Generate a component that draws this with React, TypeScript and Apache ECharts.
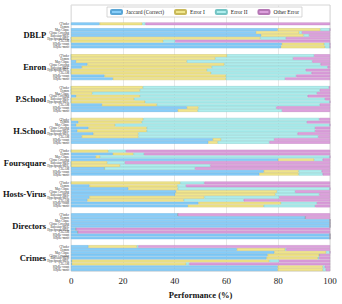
import React, { useEffect, useRef } from "react";
import * as echarts from "echarts";

const groups = ["DBLP", "Enron", "P.School", "H.School", "Foursquare", "Hosts-Virus", "Directors", "Crimes"];
const methods = ["CFinder", "Demon", "Max Clique", "Clique Covering", "Bayesian-MDL", "Hypergraph-MDL", "CIGAM", "SHyRe-count", "SHyRe-motif"];
const seriesNames = ["Jaccard (Correct)", "Error I", "Error II", "Other Error"];
const xTicks = [0, 20, 40, 60, 80, 100];

// rows per group: methods order; null = no result
const jaccard: (number | null)[][] = [
  [11, null, 79.8, 71.4, 73.4, 0, 0, 81.4, 81.1],
  [0, 0, 1.9, 6.3, 4.1, 0, 0, 12.9, 16.1],
  [0, 0, 0, 1.9, 0, 0, 11.9, 44.7, 41.2],
  [0, 2.8, 1.9, 6.7, 2.4, 8.6, 4.1, 54.7, 53.0],
  [0, 16.1, 9.5, 80.0, 0, 0, 12.9, 74.4, 72.7],
  [0, 7.1, 22.1, 40.5, 40.2, 7.1, 6.3, 49.2, 45.1],
  [41.2, 90.5, 100, 100, 100, 1.9, 2.6, 100, 100],
  [6.7, 64.0, 78.5, 75.9, 75.5, 0.3, 0.3, 79.8, 79.8],
];
const errorI: (number | null)[][] = [
  [16.5, null, 16.5, 16.7, 16.4, 73.1, 35.6, 16.4, 17.0],
  [60.2, 55.7, 42.8, 52.9, 50.2, 52.5, 54.1, 46.9, 43.7],
  [27.7, 26.6, 8.2, 24.7, 24.4, 28.6, 21.2, 4.5, 7.7],
  [27.9, 24.5, 15.1, 22.5, 26.8, 17.4, 21.9, 3.2, 3.6],
  [14.4, 8.0, 1.7, 13.9, 14.0, 18.9, 0, 13.5, 15.2],
  [42.2, 34.0, 19.1, 39.0, 38.7, 44.4, 37.2, 31.9, 29.3],
  [0, 0, 0, 0, 0, 0, 0, 0, 0],
  [18.7, 18.7, 20.0, 20.0, 19.8, 76.3, 44.1, 17.4, 17.4],
];
const errorII: (number | null)[][] = [
  [1.2, null, 3.7, 1.1, 2.2, 9.9, 4.6, 2.2, 1.9],
  [33.7, 30.1, 48.5, 37.2, 44.8, 38.2, 38.8, 27.2, 22.9],
  [71.9, 69.5, 86.8, 64.8, 73.7, 71.4, 63.0, 30.1, 32.6],
  [68.0, 63.8, 83.0, 65.1, 65.1, 61.5, 69.5, 20.6, 20.0],
  [6.8, 4.1, 88.8, 3.3, 6.8, 34.9, 35.0, 8.9, 9.3],
  [9.3, 3.3, 58.8, 7.1, 17.0, 28.9, 23.2, 13.9, 19.9],
  [0, 0, 0, 0, 0, 0, 0, 0, 0],
  [0.6, 0.4, 1.5, 0, 0.5, 3.8, 1.3, 0.8, 1.2],
];
const otherError: (number | null)[][] = [
  [71.3, null, 0, 10.8, 8.0, 17.0, 59.8, 0, 0],
  [6.1, 14.2, 6.8, 3.6, 0.9, 9.3, 7.1, 13.0, 17.3],
  [0.4, 3.9, 5.0, 8.6, 1.9, 0, 3.9, 20.7, 18.5],
  [4.1, 8.9, 0, 5.7, 5.7, 12.5, 4.5, 21.5, 23.4],
  [78.8, 71.8, 0, 2.8, 79.2, 46.2, 52.1, 3.2, 2.8],
  [48.5, 55.6, 0, 13.4, 4.1, 19.6, 33.3, 5.0, 5.7],
  [58.8, 9.5, 0, 0, 0, 98.1, 97.4, 0, 0],
  [74.0, 16.9, 0, 4.1, 4.2, 19.6, 54.3, 2.0, 1.6],
];

const colors = ["#87CEFA", "#F0E68C", "#AFEEEE", "#DDA0DD"];
const borders = ["#5aa6d6", "#c9b95a", "#74c4c4", "#b577b5"];

const TOP_PAD = 6;
const GAP = 2;

export default function App() {
  const ref = useRef<HTMLDivElement>(null);
  useEffect(() => {
    if (!ref.current) return;
    const chart = echarts.init(ref.current, null, { renderer: "svg" });

    const keys: string[] = [];
    const methodLabel: Record<string, string> = {};
    const groupLabel: Record<string, string> = {};
    const cellIndex: ({ g: number; m: number } | null)[] = [];
    for (let i = 0; i < TOP_PAD; i++) {
      keys.push("top" + i);
      cellIndex.push(null);
    }
    groups.forEach((g, gi) => {
      methods.forEach((m, mi) => {
        const k = g + "|" + m;
        keys.push(k);
        methodLabel[k] = m;
        groupLabel[k] = mi === 4 ? g : "";
        cellIndex.push({ g: gi, m: mi });
      });
      if (gi < groups.length - 1) {
        for (let i = 0; i < GAP; i++) {
          keys.push("gap" + gi + "_" + i);
          cellIndex.push(null);
        }
      }
    });

    const tables = [jaccard, errorI, errorII, otherError];
    const series = tables.map((t, si) => ({
      name: seriesNames[si],
      type: "bar",
      stack: "total",
      yAxisIndex: 0,
      barCategoryGap: "10%",
      itemStyle: { color: colors[si], borderColor: borders[si], borderWidth: 0.4 },
      data: cellIndex.map((c) => {
        if (!c) return "-";
        const v = t[c.g][c.m];
        return v == null ? "-" : v;
      }),
    }));

    const serif = "Liberation Serif, Times New Roman, serif";
    chart.setOption({
      animation: false,
      backgroundColor: "#ffffff",
      textStyle: { fontFamily: serif },
      grid: { left: 71, right: 12, top: 5, bottom: 26, show: true, borderColor: "#cccccc", borderWidth: 0.8 },
      legend: {
        data: seriesNames,
        left: 107,
        top: 7,
        padding: [2, 3],
        itemWidth: 11,
        itemHeight: 4,
        itemGap: 10,
        backgroundColor: "#ffffff",
        borderColor: "#cccccc",
        borderWidth: 0.8,
        textStyle: { fontSize: 5.5, fontFamily: serif, color: "#222", padding: [0, 0, 0, -1] },
      },
      xAxis: {
        type: "value",
        min: xTicks[0],
        max: xTicks[xTicks.length - 1],
        interval: 20,
        axisLine: { show: false },
        axisTick: { show: false },
        splitLine: { lineStyle: { color: "#e2e2e2", width: 0.8 } },
        axisLabel: { fontSize: 9, fontFamily: serif, color: "#222", margin: 5 },
        name: "Performance (%)",
        nameLocation: "middle",
        nameGap: 15,
        nameTextStyle: { fontSize: 8.5, fontWeight: "bold", fontFamily: serif, color: "#111" },
      },
      yAxis: [
        {
          type: "category",
          data: keys,
          inverse: true,
          axisLine: { show: false },
          axisTick: { show: false },
          splitLine: { show: false },
          axisLabel: {
            interval: 0,
            fontSize: 3,
            margin: 2,
            color: "#333",
            fontFamily: serif,
            formatter: (v: string) => methodLabel[v] || "",
          },
        },
        {
          type: "category",
          data: keys,
          inverse: true,
          position: "left",
          offset: 25,
          axisLine: { show: false },
          axisTick: { show: false },
          splitLine: { show: false },
          axisLabel: {
            interval: 0,
            fontSize: 8.5,
            fontWeight: "bold",
            margin: 0,
            color: "#111",
            fontFamily: serif,
            formatter: (v: string) => groupLabel[v] || "",
          },
        },
      ],
      series,
    });
    return () => chart.dispose();
  }, []);
  return (
    <div
      ref={ref}
      style={{ position: "fixed", left: 0, top: 0, width: 342, height: 304 }}
    />
  );
}
